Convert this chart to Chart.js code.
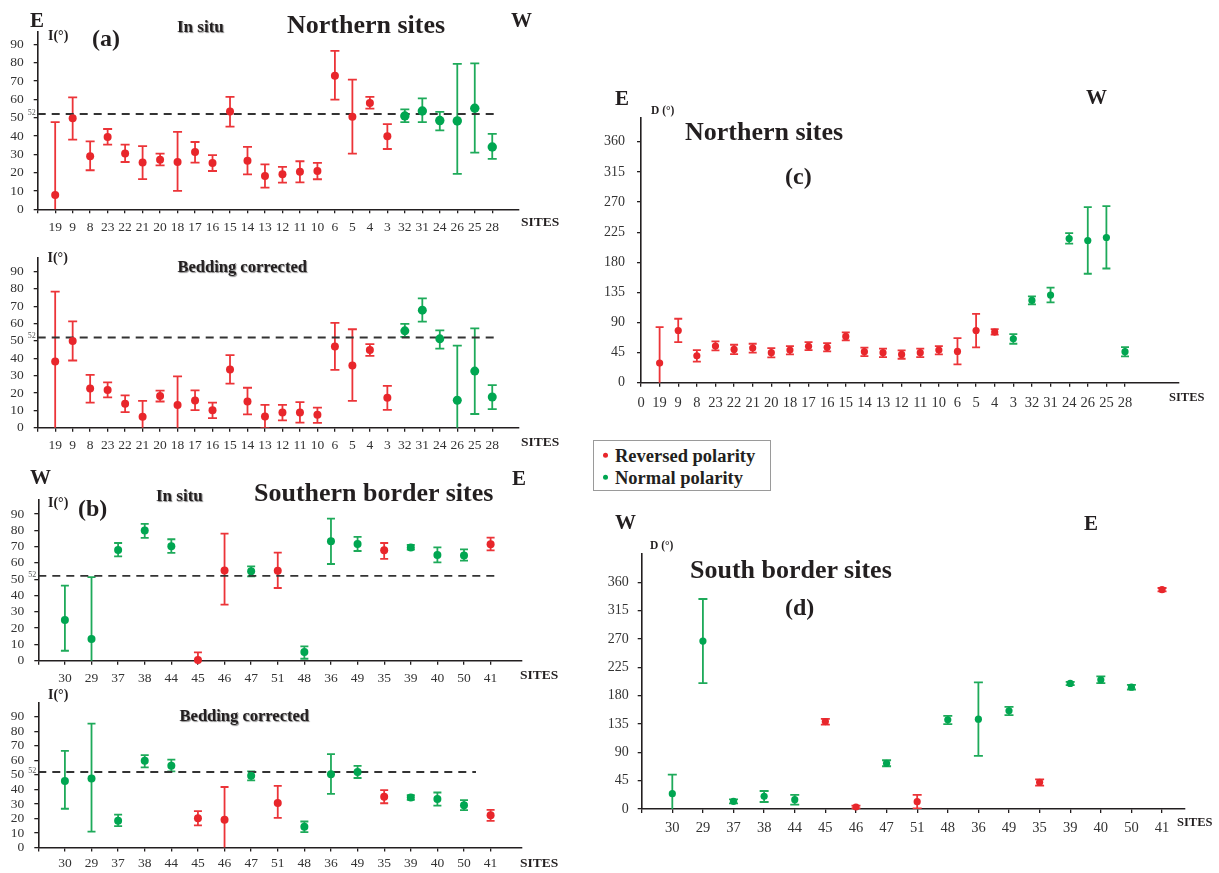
<!DOCTYPE html>
<html><head><meta charset="utf-8">
<script src="https://cdn.jsdelivr.net/npm/chart.js@4.4.0/dist/chart.umd.min.js"></script>
<style>
html,body{margin:0;padding:0;background:#fff;}
#page{position:relative;width:1219px;height:873px;overflow:hidden;font-family:"Liberation Serif","Times New Roman",serif;}
canvas{position:absolute;}
.t{position:absolute;white-space:nowrap;font-weight:bold;color:#231f20;line-height:1;transform:translateY(-50%);}
.sh{text-shadow:1px 1px 1px #8a8a8a;}
#legend{position:absolute;left:593px;top:440px;width:178px;height:51px;border:1px solid #9a9a9a;box-sizing:border-box;}
.li{position:absolute;left:0;white-space:nowrap;font-weight:bold;font-size:18.5px;line-height:1;color:#231f20;transform:translateY(-50%);}
.dot{display:inline-block;width:5px;height:5px;border-radius:50%;margin:0 7px 0 9px;vertical-align:middle;position:relative;top:-2px;}
</style></head><body><div id="page">
<canvas id="cA1" width="580" height="240" style="left:0;top:0"></canvas>
<canvas id="cA2" width="580" height="215" style="left:0;top:240px"></canvas>
<canvas id="cB1" width="580" height="230" style="left:0;top:455px"></canvas>
<canvas id="cB2" width="580" height="188" style="left:0;top:685px"></canvas>
<canvas id="cC" width="639" height="340" style="left:580px;top:80px"></canvas>
<canvas id="cD" width="639" height="373" style="left:580px;top:500px"></canvas>
<div id="legend">
  <div class="li" style="top:15px"><span class="dot" style="background:#e8262b"></span>Reversed polarity</div>
  <div class="li" style="top:37px"><span class="dot" style="background:#00a651"></span>Normal polarity</div>
</div>
</div>
<script>
// ---------- data ----------
const northSites = ['19','9','8','23','22','21','20','18','17','16','15','14','13','12','11','10','6','5','4','3','32','31','24','26','25','28'];
const southSites = ['30','29','37','38','44','45','46','47','51','48','36','49','35','39','40','50','41'];

const northPolarityI = ['R','R','R','R','R','R','R','R','R','R','R','R','R','R','R','R','R','R','R','R','N','N','N','N','N','N'];
const northPolarityD = ['R','R','R','R','R','R','R','R','R','R','R','R','R','R','R','R','R','R','R','N','N','N','N','N','N','N'];
const southPolarity  = ['N','N','N','N','N','R','R','N','R','N','N','N','R','N','N','N','R'];

const inclTicks = [0,10,20,30,40,50,60,70,80,90];
const declTicks = [0,45,90,135,180,225,270,315,360];
const refInclination = 52;

// (a) in situ, northern sites
const incNorthInSitu   = [7.8,49.6,29,39.5,30.5,25.5,27,25.8,31.3,25.3,53.3,26.5,18.2,19.1,20.5,20.9,72.9,50.5,58,39.8,50.9,53.6,48.4,48.2,55.1,34];
const incNorthInSituHi = [47.5,61,37,43.8,35.3,34.5,30.4,42.2,36.7,29.6,61.3,34,24.5,23.1,26.2,25.3,86.4,70.7,61.3,46.5,54.5,60.5,53.1,79.3,79.6,41.1];
const incNorthInSituLo = [-31.9,38,21.3,35.3,25.8,16.5,24,10,25.5,20.9,45.1,19,11.8,14.5,14.7,16.4,59.8,30.4,54.9,32.9,47.5,47.5,43.1,19.3,30.9,27.5];

// (a) bedding corrected, northern sites
const incNorthBed   = [38.1,49.9,22.6,21.7,13.8,6.3,18.2,13.1,15.6,10.1,33.5,15.1,6.4,8.7,8.8,7.4,46.8,35.9,44.7,17.3,55.8,67.7,51.2,15.8,32.6,17.7];
const incNorthBedHi = [78.4,61.3,30.4,26.1,18.6,15.5,21.4,29.6,21.5,14.4,41.8,23,13.1,13.1,14.7,11.6,60.4,56.7,48.2,24.1,59.8,74.5,56.1,47.3,57.2,24.5];
const incNorthBedLo = [-2.2,38.7,14.4,17.5,9,-2.9,15.1,-3.4,10.1,5.5,25.4,7.7,-0.3,4.2,2.9,2.8,33.3,15.5,41.4,10.3,52.3,61.1,45.6,-15.7,7.9,10.7];

// (b) in situ, southern border sites
const incSouthInSitu   = [25,13.3,67.9,79.8,70.2,0.4,55.4,54.8,55.2,5.3,73.2,71.6,67.7,69.5,64.8,64.6,71.4];
const incSouthInSituHi = [46,51.3,72.2,83.9,74.5,5.1,77.9,57.9,66.3,8.8,87.1,75.9,72.2,71,69.5,68.3,75.5];
const incSouthInSituLo = [6.1,-24.7,64,75.3,66.1,-4.3,34.4,51.7,44.6,1.2,59.3,67.3,62.4,68.1,60.3,61.4,67.7];

// (b) bedding corrected, southern border sites
const incSouthBed   = [45.8,47.6,18.5,59.7,56.4,20.2,19.1,49.5,30.7,14.3,50.5,52.1,35,34.4,33.4,29.1,22.2];
const incSouthBedHi = [66.6,85.3,22.6,63.7,60.5,25,41.7,52.5,42.4,17.9,64.3,56.2,39.5,36,37.9,32.6,25.9];
const incSouthBedLo = [26.7,11,14.7,55.2,52.5,15.3,-3.5,46.2,20.4,10.6,36.9,47.9,30.5,32.8,28.9,25.7,18.3];

// (c) declination, northern sites
const decNorth   = [29.4,78,40.3,54.8,49.8,51.8,44.8,48.8,54.3,52.8,69.2,46.3,44.8,42.3,44.8,48.8,46.8,78,75.7,65.7,123,131,215.5,212.5,217,46.3];
const decNorthHi = [83,95.6,48.8,61.7,56.7,58.2,51.8,54.8,60.7,59.2,75.2,52.3,50.8,48.3,50.8,54.8,66.7,103,80.1,72.7,129,142,223.5,262.3,263.8,53.3];
const decNorthLo = [-24.2,60.7,31.4,48.3,42.8,44.8,37.8,42.3,48.8,46.8,63.2,39.8,38.3,35.8,38.3,42.3,27.4,52.8,71.7,58.2,117,120,208,162.8,170.7,39.3];

// (d) declination, south border sites
const decSouth   = [24.4,266.7,12.2,20.1,14.8,138.9,3.2,72.6,11.7,141.6,142.6,155.9,42.4,199.4,205.2,193.5,348.4];
const decSouthHi = [54.6,333.5,15.4,28.6,22.3,143.2,5.3,77.4,22.3,147.9,201,162.2,47.2,202,210.5,197.2,351];
const decSouthLo = [-5.8,199.9,9,11.1,6.9,134.1,1.1,67.9,1.1,134.7,84.3,149,37.1,196.7,199.9,189.8,345.7];

// ---------- styling ----------
const RED = '#e8262b', GREEN = '#00a651', RED_BAR = '#ec3438', GREEN_BAR = '#1eaa5a';
const INK = '#231f20', TICKTXT = '#333333', FAM = '"Liberation Serif","Times New Roman",serif';

const errPlugin = {
  id: 'errbars',
  beforeDatasetsDraw(chart) {
    const {ctx, chartArea: a, scales: {x, y}} = chart;
    ctx.save();
    ctx.beginPath(); ctx.rect(a.left, a.top - 30, a.right - a.left, a.bottom - a.top + 30); ctx.clip();
    chart.data.datasets.forEach(ds => {
      if (!ds.errLo) return;
      ds.data.forEach((pt, i) => {
        const px = x.getPixelForValue(pt.x);
        const yl = y.getPixelForValue(ds.errLo[i]);
        const yh = y.getPixelForValue(ds.errHi[i]);
        const cw = ds.capHalf;
        ctx.strokeStyle = ds.errColors[i]; ctx.lineWidth = 1.8;
        ctx.beginPath();
        ctx.moveTo(px, yl); ctx.lineTo(px, yh);
        ctx.moveTo(px - cw, yh); ctx.lineTo(px + cw, yh);
        ctx.moveTo(px - cw, yl); ctx.lineTo(px + cw, yl);
        ctx.stroke();
      });
    });
    ctx.restore();
  },
  afterDraw(chart) {
    const r = chart.options.plugins.refLabel;
    if (!r || !r.show) return;
    const {ctx, chartArea: a, scales: {y}} = chart;
    ctx.save();
    ctx.font = '8px ' + FAM; ctx.fillStyle = '#555';
    ctx.textAlign = 'right'; ctx.textBaseline = 'alphabetic';
    ctx.fillText(String(r.value), a.left - 2, y.getPixelForValue(r.value) + 1);
    ctx.restore();
  }
};

function panel(id, p) {
  const pts = p.values.map((v, i) => ({x: i + 1, y: v}));
  const datasets = [];
  datasets.push({
    type: 'scatter', data: pts, order: 0, clip: false,
    pointBackgroundColor: p.pol.map(c => c === 'R' ? RED : GREEN),
    pointBorderWidth: 0,
    pointRadius: p.pol.map(c => c === 'R' ? p.rR : p.rN),
    errLo: p.lo, errHi: p.hi, capHalf: p.cap,
    errColors: p.pol.map(c => c === 'R' ? RED_BAR : GREEN_BAR)
  });
  if (p.refEnd) {
    datasets.push({type: 'line', order: 1, data: [{x: 0, y: refInclination}, {x: p.refEnd, y: refInclination}],
      borderColor: '#333333', borderWidth: 1.9, borderDash: [8, 6], pointRadius: 0, fill: false});
  }
  new Chart(document.getElementById(id), {
    type: 'scatter',
    data: {datasets},
    plugins: [errPlugin],
    options: {
      responsive: false, animation: false, devicePixelRatio: 1,
      layout: {padding: {left: 0, right: p.rp, top: p.tp, bottom: 0}},
      plugins: {legend: {display: false}, tooltip: {enabled: false},
                refLabel: {show: !!p.refEnd, value: refInclination}},
      scales: {
        x: {
          type: 'linear', min: 0, max: p.xMax,
          border: {display: true, color: INK, width: 1.6},
          grid: {display: true, drawOnChartArea: false, drawTicks: true, tickLength: 4, color: INK, lineWidth: 1.3},
          ticks: {autoSkip: false, maxRotation: 0, color: TICKTXT, padding: p.xPad,
                  font: {family: FAM, size: p.xFont},
                  callback: v => v === 0 ? (p.zeroLabel ? '0' : '') : (p.sites[v - 1] || '')},
          afterBuildTicks: s => { s.ticks = [0].concat(p.sites.map((_, i) => i + 1)).map(v => ({value: v})); },
          afterFit: s => { s.height = p.xh; }
        },
        y: {
          type: 'linear', min: 0, max: p.yMax,
          border: {display: true, color: INK, width: 1.6},
          grid: {display: true, drawOnChartArea: false, drawTicks: true, tickLength: 4, color: INK, lineWidth: 1.3},
          ticks: {autoSkip: false, color: TICKTXT, padding: p.yPad, font: {family: FAM, size: p.yFont}},
          afterBuildTicks: s => { s.ticks = p.yTicks.map(v => ({value: v})); },
          afterFit: s => { s.width = p.yw; }
        }
      }
    }
  });
}

panel('cA1', {sites: northSites, pol: northPolarityI, values: incNorthInSitu, hi: incNorthInSituHi, lo: incNorthInSituLo,
  yTicks: inclTicks, yMax: 96.7, xMax: 27.53, yw: 37.7, rp: 61, tp: 32, xh: 30.7, refEnd: 26.26,
  rR: 4, rN: 4.7, cap: 4.5, xFont: 13.5, yFont: 13.5, xPad: 6, yPad: 10});
panel('cA2', {sites: northSites, pol: northPolarityI, values: incNorthBed, hi: incNorthBedHi, lo: incNorthBedLo,
  yTicks: inclTicks, yMax: 97.7, xMax: 27.53, yw: 37.7, rp: 61, tp: 10.7, xh: 27.3, refEnd: 26.26,
  rR: 4, rN: 4.5, cap: 4.5, xFont: 13.5, yFont: 13.5, xPad: 6, yPad: 10});
panel('cB1', {sites: southSites, pol: southPolarity, values: incSouthInSitu, hi: incSouthInSituHi, lo: incSouthInSituLo,
  yTicks: inclTicks, yMax: 99, xMax: 18.18, yw: 38.3, rp: 58, tp: 44.3, xh: 24.3, refEnd: 17.36,
  rR: 4, rN: 4, cap: 4, xFont: 13.5, yFont: 13.5, xPad: 6, yPad: 10});
panel('cB2', {sites: southSites, pol: southPolarity, values: incSouthBed, hi: incSouthBedHi, lo: incSouthBedLo,
  yTicks: inclTicks, yMax: 99.5, xMax: 18.18, yw: 38.3, rp: 58, tp: 1.7, xh: 25.5, refEnd: 16.45,
  rR: 4, rN: 4, cap: 4, xFont: 13.5, yFont: 13.5, xPad: 4, yPad: 10});
panel('cC', {sites: northSites, pol: northPolarityD, values: decNorth, hi: decNorthHi, lo: decNorthLo, zeroLabel: true,
  yTicks: declTicks, yMax: 395.6, xMax: 28.9, yw: 61, rp: 40, tp: 38, xh: 37.3,
  rR: 3.6, rN: 3.6, cap: 4, xFont: 14.5, yFont: 14, xPad: 8, yPad: 12});
panel('cD', {sites: southSites, pol: southPolarity, values: decSouth, hi: decSouthHi, lo: decSouthLo,
  yTicks: declTicks, yMax: 405, xMax: 17.75, yw: 61.7, rp: 34, tp: 54, xh: 64,
  rR: 3.6, rN: 3.6, cap: 4.5, xFont: 14.5, yFont: 14, xPad: 6, yPad: 9});

// ---------- annotations ----------
const notes = [
  ['E', 30, 20, 21], ['W', 511, 19.5, 21], ['I(°)', 48, 36, 14], ['(a)', 92, 38, 24],
  ['In situ', 177, 25.5, 17, 'sh'], ['Northern sites', 287, 25, 26], ['SITES', 521, 222, 13.5],
  ['I(°)', 47.5, 258.3, 14], ['Bedding corrected', 177.5, 266.7, 16.5, 'sh'], ['SITES', 521, 441.7, 13.5],
  ['W', 30, 476.7, 21], ['E', 512, 478.3, 21], ['I(°)', 48, 503.3, 14], ['(b)', 78, 508.3, 24],
  ['In situ', 156, 495, 17, 'sh'], ['Southern border sites', 254, 493.3, 26], ['SITES', 520, 675, 13.5],
  ['I(°)', 48, 695, 14], ['Bedding corrected', 179.6, 716, 16.5, 'sh'], ['SITES', 520, 862.7, 13.5],
  ['E', 615, 98, 21], ['W', 1086, 96.7, 21], ['D (°)', 651, 110.7, 11.5], ['Northern sites', 685, 132.3, 26],
  ['(c)', 785, 175.7, 24], ['SITES', 1169, 397, 12.5],
  ['W', 615, 521.7, 21], ['E', 1084, 522.7, 21], ['D (°)', 650, 546, 11.5], ['South border sites', 690, 570, 26],
  ['(d)', 785, 606.7, 24], ['SITES', 1177, 821.7, 12.5]
];
const page = document.getElementById('page');
notes.forEach(([txt, x, y, size, cls]) => {
  const d = document.createElement('div');
  d.className = 't' + (cls ? ' ' + cls : '');
  d.textContent = txt;
  d.style.left = x + 'px'; d.style.top = y + 'px'; d.style.fontSize = size + 'px';
  page.appendChild(d);
});
</script>
</body></html>
